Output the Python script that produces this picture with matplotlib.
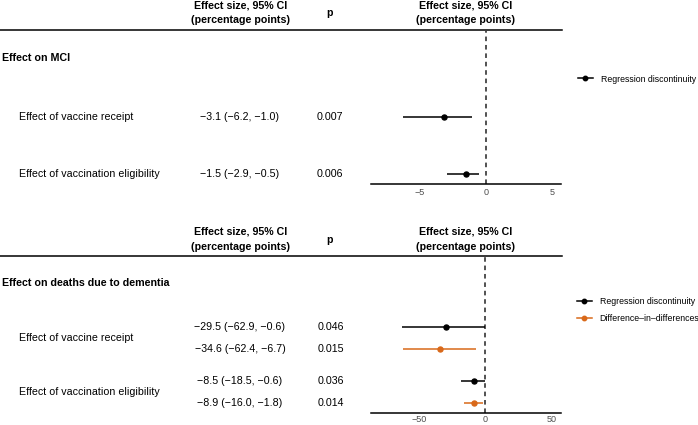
import matplotlib
matplotlib.use("Agg")
import matplotlib.pyplot as plt
from matplotlib.lines import Line2D

plt.rcParams['font.family'] = ['Liberation Sans', 'DejaVu Sans']

# ---- data ----
row_labels = ["Effect of vaccine receipt", "Effect of vaccination eligibility"]

mci_est = [-3.1, -1.5]
mci_lo = [-6.2, -2.9]
mci_hi = [-1.0, -0.5]
mci_p = ["0.007", "0.006"]

rd_est = [-29.5, -8.5]
rd_lo = [-62.9, -18.5]
rd_hi = [-0.6, -0.6]
rd_p = ["0.046", "0.036"]

did_est = [-34.6, -8.9]
did_lo = [-62.4, -16.0]
did_hi = [-6.7, -1.8]
did_p = ["0.015", "0.014"]

mci_ticks = [-5, 0, 5]
dem_ticks = [-50, 0, 50]

series_names = ["Regression discontinuity", "Difference\u2013in\u2013differences"]
series_colors = ["black", "#D9691A"]

W, H = 698, 425
FS = 7.7


def fx(x):
    return x / W


def fy(y):
    return 1 - y / H


def fmt_ci(e, l, h):
    return ("%.1f (%.1f, %.1f)" % (e, l, h)).replace("-", "\u2212")


fig = plt.figure(figsize=(W / 100, H / 100), dpi=100)


def txt(x, y, s, bold=False, ha='left', size=FS, color='black'):
    fig.text(fx(x), fy(y), s, ha=ha, va='center', fontsize=size,
             fontweight='bold' if bold else 'normal', color=color)


def header(y0):
    # column headers + rule
    txt(241, y0, "Effect size, 95% CI", bold=True, ha='center')
    txt(241, y0 + 15, "(percentage points)", bold=True, ha='center')
    txt(330, y0 + 8, "p", bold=True, ha='center')
    txt(466, y0, "Effect size, 95% CI", bold=True, ha='center')
    txt(466, y0 + 15, "(percentage points)", bold=True, ha='center')
    fig.add_artist(Line2D([0, fx(562)], [fy(y0 + 24.5)] * 2,
                          transform=fig.transFigure, color='black', lw=1.1))


def forest_axes(top_px, bottom_px, xlim, ticks, pad=3.5):
    ax = fig.add_axes([fx(371), fy(bottom_px), fx(561) - fx(371),
                       (bottom_px - top_px) / H])
    ax.set_xlim(*xlim)
    ax.set_xticks(ticks)
    ax.set_xticklabels([str(t).replace("-", "\u2212") for t in ticks])
    ax.tick_params(axis='x', length=0, pad=pad, labelsize=6.5, labelcolor='#4D4D4D')
    ax.set_yticks([])
    for s in ['top', 'left', 'right']:
        ax.spines[s].set_visible(False)
    ax.spines['bottom'].set_linewidth(1.1)
    ax.axvline(0, color='#222222', lw=1.1, ls=(0, (3, 2.5)), zorder=1)
    ax.patch.set_alpha(0)
    return ax


# ---------------- top panel: MCI ----------------
header(5)
txt(1.5, 58, "Effect on MCI", bold=True)
mci_rows = [116.7, 174]
for i, yy in enumerate(mci_rows):
    txt(19, yy, row_labels[i])
    txt(240, yy, fmt_ci(mci_est[i], mci_lo[i], mci_hi[i]), ha='center')
    txt(330, yy, mci_p[i], ha='center')

ax1 = forest_axes(30.5, 183.5, (-8.62, 5.66), mci_ticks)
ax1.set_ylim(183.5, 30.5)
ax1.errorbar(mci_est, mci_rows, xerr=[[e - l for e, l in zip(mci_est, mci_lo)],
                                      [h - e for e, h in zip(mci_est, mci_hi)]],
             fmt='o', color=series_colors[0], ms=3.6, elinewidth=1.1, capsize=0, zorder=3)

h1 = [Line2D([], [], color=series_colors[0], marker='o', ms=3.2, lw=1.1)]
fig.legend(h1, series_names[:1], loc='center left', bbox_to_anchor=(fx(578), fy(79)),
           frameon=False, fontsize=6.3, handlelength=1.7, handletextpad=0.9,
           borderpad=0, borderaxespad=0)

# ---------------- bottom panel: deaths due to dementia ----------------
header(231.7)
txt(1.5, 282.7, "Effect on deaths due to dementia", bold=True)
rd_rows = [326.7, 381]
did_rows = [349.3, 403.3]
label_rows = [338, 392]
for i in range(2):
    txt(19, label_rows[i], row_labels[i])
    txt(240, rd_rows[i], fmt_ci(rd_est[i], rd_lo[i], rd_hi[i]), ha='center')
    txt(331, rd_rows[i], rd_p[i], ha='center')
    txt(240, did_rows[i], fmt_ci(did_est[i], did_lo[i], did_hi[i]), ha='center')
    txt(331, did_rows[i], did_p[i], ha='center')

ax2 = forest_axes(257, 413.3, (-86.6, 57.3), dem_ticks, pad=1.5)
ax2.set_ylim(413.3, 257)
ax2.errorbar(rd_est, rd_rows, xerr=[[e - l for e, l in zip(rd_est, rd_lo)],
                                    [h - e for e, h in zip(rd_est, rd_hi)]],
             fmt='o', color=series_colors[0], ms=3.6, elinewidth=1.1, capsize=0, zorder=3)
ax2.errorbar(did_est, did_rows, xerr=[[e - l for e, l in zip(did_est, did_lo)],
                                      [h - e for e, h in zip(did_est, did_hi)]],
             fmt='o', color=series_colors[1], ms=3.6, elinewidth=1.1, capsize=0, zorder=3)

h2 = [Line2D([], [], color=c, marker='o', ms=3.2, lw=1.1) for c in series_colors]
fig.legend(h2, series_names, loc='center left', bbox_to_anchor=(fx(577), fy(310)),
           frameon=False, fontsize=6.3, handlelength=1.7, handletextpad=0.9,
           labelspacing=0.85, borderpad=0, borderaxespad=0)

fig.savefig("out.png", dpi=100)
